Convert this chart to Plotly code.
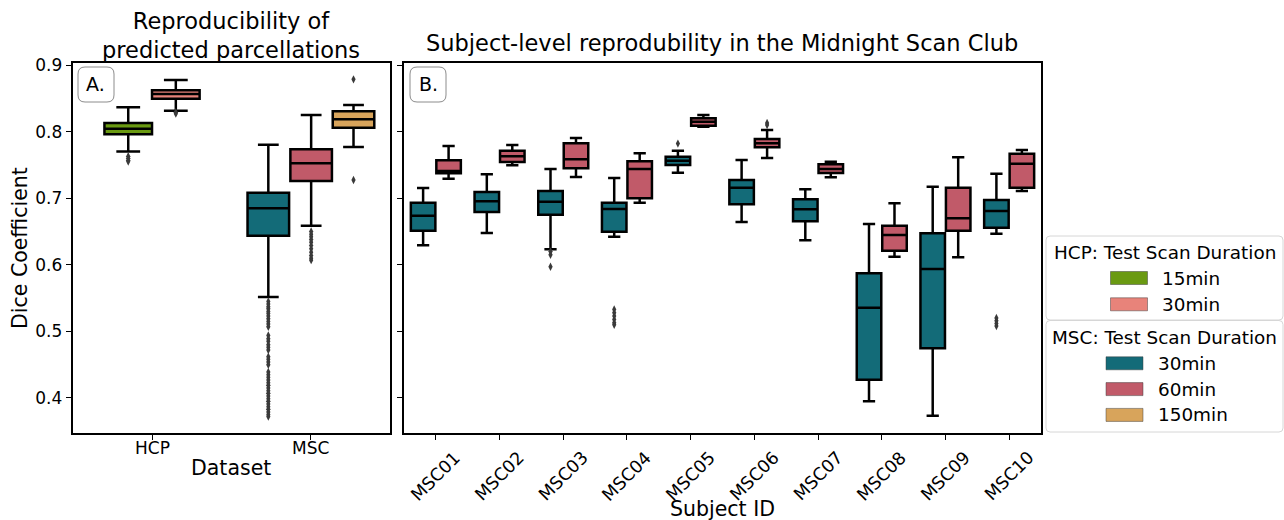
import plotly.graph_objects as go

W, H = 1284, 520

# ---------------- Panel A: dataset-level reproducibility ----------------
datasets = ["HCP", "MSC"]

hcp_durations = ["15min", "30min"]
hcp_colors = ["#6a9a12", "#e8837a"]
hcp_lower = [0.770, 0.8314]
hcp_q1 = [0.796, 0.8494]
hcp_median = [0.8044, 0.8565]
hcp_q3 = [0.8129, 0.862]
hcp_upper = [0.8365, 0.8775]
hcp_outliers = [
    [0.763, 0.760, 0.757, 0.755],
    [0.829, 0.827],
]

msc_durations = ["30min", "60min", "150min"]
msc_colors = ["#136b78", "#c15a69", "#d8a45b"]
msc_lower = [0.5517, 0.6587, 0.7769]
msc_q1 = [0.6437, 0.7258, 0.8059]
msc_median = [0.6848, 0.7524, 0.8185]
msc_q3 = [0.7083, 0.7734, 0.8305]
msc_upper = [0.7803, 0.825, 0.840]
msc_outliers = [
    [0.545, 0.541, 0.537, 0.534, 0.530, 0.527, 0.523, 0.519, 0.515, 0.511,
     0.507, 0.494, 0.489, 0.485, 0.480, 0.476, 0.472, 0.462, 0.458, 0.454,
     0.450, 0.439, 0.435, 0.431, 0.427, 0.423, 0.419, 0.415, 0.411, 0.407,
     0.403, 0.399, 0.395, 0.391, 0.387, 0.383, 0.379, 0.375, 0.372],
    [0.650, 0.646, 0.642, 0.638, 0.634, 0.629, 0.624, 0.619, 0.614, 0.610, 0.607],
    [0.8785, 0.7273],
]

# ---------------- Panel B: subject-level reproducibility ----------------
subjects = ["MSC01", "MSC02", "MSC03", "MSC04", "MSC05",
            "MSC06", "MSC07", "MSC08", "MSC09", "MSC10"]

sub30_lower = [0.6293, 0.6477, 0.6232, 0.6422, 0.7383, 0.6643, 0.6368, 0.395, 0.3734, 0.6467]
sub30_q1 = [0.6512, 0.6793, 0.6753, 0.6497, 0.7499, 0.6908, 0.6653, 0.4275, 0.4746, 0.6557]
sub30_median = [0.6737, 0.6953, 0.6948, 0.6838, 0.7564, 0.7158, 0.6833, 0.5356, 0.5937, 0.6808]
sub30_q3 = [0.6933, 0.7093, 0.7108, 0.6933, 0.7624, 0.7273, 0.6983, 0.5872, 0.6473, 0.6973]
sub30_upper = [0.7153, 0.7359, 0.7438, 0.7303, 0.7713, 0.7574, 0.7134, 0.6613, 0.7173, 0.7368]
sub30_outliers = [
    [], [], [0.620, 0.615, 0.597], [0.533, 0.528, 0.523, 0.518, 0.513, 0.510],
    [0.782], [], [], [], [], [0.520, 0.516, 0.512, 0.508],
]

sub60_lower = [0.7293, 0.7494, 0.7318, 0.6933, 0.8074, 0.7604, 0.7313, 0.6122, 0.6112, 0.7108]
sub60_q1 = [0.7374, 0.7544, 0.7449, 0.6998, 0.809, 0.7764, 0.7378, 0.6212, 0.6512, 0.7158]
sub60_median = [0.741, 0.7629, 0.7584, 0.7438, 0.815, 0.7824, 0.7438, 0.6448, 0.6698, 0.7518]
sub60_q3 = [0.7569, 0.7713, 0.7824, 0.7554, 0.820, 0.7889, 0.7509, 0.6588, 0.7158, 0.7668]
sub60_upper = [0.7784, 0.7799, 0.7904, 0.7674, 0.825, 0.8024, 0.7549, 0.6923, 0.7614, 0.7724]
sub60_outliers = [
    [], [], [], [], [], [0.813, 0.810], [], [], [], [],
]

y_ticks = [0.4, 0.5, 0.6, 0.7, 0.8, 0.9]

# ---------------- styling ----------------
FONT = "DejaVu Sans"
LINE_W = 2.5
OUT_COLOR = "#3a3a3a"


def px_x(p):
    return p / W


def px_y(p):
    return 1 - p / H


def box_trace(xpos, lower, q1, med, q3, upper, color, name, xa, ya, width):
    return go.Box(
        x=xpos, lowerfence=lower, q1=q1, median=med, q3=q3, upperfence=upper,
        width=width, fillcolor=color, name=name,
        line=dict(color="black", width=LINE_W), whiskerwidth=0.5,
        boxpoints=False, xaxis=xa, yaxis=ya, showlegend=False,
        hoverinfo="skip",
    )


def outlier_trace(xs, ys, xa, ya):
    return go.Scatter(
        x=xs, y=ys, mode="markers", xaxis=xa, yaxis=ya, showlegend=False,
        marker=dict(symbol="diamond-tall", size=6, color=OUT_COLOR,
                    line=dict(width=0)),
        hoverinfo="skip",
    )


fig = go.Figure()

# Panel A boxes
hcp_offsets = [-0.15, 0.15]
for i, dur in enumerate(hcp_durations):
    xpos = [0 + hcp_offsets[i]]
    fig.add_trace(box_trace(xpos, [hcp_lower[i]], [hcp_q1[i]], [hcp_median[i]],
                            [hcp_q3[i]], [hcp_upper[i]], hcp_colors[i], dur,
                            "x", "y", 0.3))
    if hcp_outliers[i]:
        fig.add_trace(outlier_trace(xpos * len(hcp_outliers[i]), hcp_outliers[i], "x", "y"))

msc_offsets = [-0.267, 0.003, 0.27]
for i, dur in enumerate(msc_durations):
    xpos = [1 + msc_offsets[i]]
    fig.add_trace(box_trace(xpos, [msc_lower[i]], [msc_q1[i]], [msc_median[i]],
                            [msc_q3[i]], [msc_upper[i]], msc_colors[i], dur,
                            "x", "y", 0.262))
    if msc_outliers[i]:
        fig.add_trace(outlier_trace(xpos * len(msc_outliers[i]), msc_outliers[i], "x", "y"))

# Panel B boxes
sub_groups = [
    (-0.2, sub30_lower, sub30_q1, sub30_median, sub30_q3, sub30_upper, sub30_outliers, msc_colors[0], "30min"),
    (0.2, sub60_lower, sub60_q1, sub60_median, sub60_q3, sub60_upper, sub60_outliers, msc_colors[1], "60min"),
]
for off, lo, q1, med, q3, hi, outs, color, dur in sub_groups:
    xpos = [k + off for k in range(len(subjects))]
    fig.add_trace(box_trace(xpos, lo, q1, med, q3, hi, color, dur, "x2", "y2", 0.385))
    ox, oy = [], []
    for k, vals in enumerate(outs):
        ox += [xpos[k]] * len(vals)
        oy += vals
    if oy:
        fig.add_trace(outlier_trace(ox, oy, "x2", "y2"))

# ---------------- axes ----------------
y_dom = [px_y(433), px_y(62.5)]
y_rng = [0.3474, 0.9038]
axis_common = dict(showline=True, mirror=True, linecolor="black", linewidth=2,
                   ticks="outside", ticklen=5, tickwidth=1.2, tickcolor="black",
                   showgrid=False, zeroline=False, automargin=False,
                   tickfont=dict(family=FONT, size=17, color="black"))

fig.update_layout(
    width=W, height=H,
    margin=dict(l=0, r=0, t=0, b=0, pad=0, autoexpand=False),
    paper_bgcolor="white", plot_bgcolor="white",
    font=dict(family=FONT, color="black"),
    boxmode="overlay",
    showlegend=False,
    xaxis=dict(domain=[px_x(72.7), px_x(390)], range=[-0.5, 1.5],
               tickvals=[0, 1], showticklabels=False, anchor="y", **axis_common),
    yaxis=dict(domain=y_dom, range=y_rng, tickvals=y_ticks,
               ticktext=[f"{v:.1f}" for v in y_ticks], anchor="x", **axis_common),
    xaxis2=dict(domain=[px_x(404), px_x(1041)], range=[-0.5, 9.5],
                tickvals=list(range(len(subjects))), showticklabels=False,
                anchor="y2", **axis_common),
    yaxis2=dict(domain=y_dom, range=y_rng, tickvals=y_ticks,
                showticklabels=False, anchor="x2", **axis_common),
)


# ---------------- text ----------------
def text(x, y, s, size, angle=0, anchor="center"):
    fig.add_annotation(x=px_x(x), y=px_y(y), xref="paper", yref="paper",
                       text=s, showarrow=False, textangle=angle,
                       xanchor=anchor, yanchor="middle",
                       font=dict(family=FONT, size=size, color="black"))


# category labels centred under their ticks
for k, name in enumerate(datasets):
    fig.add_annotation(x=k, y=px_y(447.5), xref="x", yref="paper", text=name,
                       showarrow=False, xanchor="center", yanchor="middle",
                       font=dict(family=FONT, size=17, color="black"))
for k, name in enumerate(subjects):
    fig.add_annotation(x=k, y=px_y(476), xref="x2", yref="paper", text=name,
                       showarrow=False, textangle=-45,
                       xanchor="center", yanchor="middle",
                       font=dict(family=FONT, size=17.5, color="black"))

text(231, 36, "Reproducibility of<br>predicted parcellations", 22.5)
text(722, 43, "Subject-level reprodubility in the Midnight Scan Club", 22.5)
text(20, 248, "Dice Coefficient", 20.5, angle=-90)
text(231, 468, "Dataset", 20.5)
text(722, 509, "Subject ID", 20.5)


def rounded_box(x0, y0, x1, y1, r, color, width, fill="white"):
    rx, ry = r / W, r / H
    a0, a1 = px_x(x0), px_x(x1)
    b0, b1 = px_y(y1), px_y(y0)
    path = (f"M{a0 + rx},{b0} L{a1 - rx},{b0} Q{a1},{b0} {a1},{b0 + ry} "
            f"L{a1},{b1 - ry} Q{a1},{b1} {a1 - rx},{b1} "
            f"L{a0 + rx},{b1} Q{a0},{b1} {a0},{b1 - ry} "
            f"L{a0},{b0 + ry} Q{a0},{b0} {a0 + rx},{b0} Z")
    fig.add_shape(type="path", path=path, xref="paper", yref="paper",
                  line=dict(color=color, width=width), fillcolor=fill)


# panel tags
rounded_box(78, 67, 114, 102, 7, "#8c8c8c", 1)
rounded_box(410, 67, 446, 102, 7, "#8c8c8c", 1)
text(96, 84.5, "A.", 19)
text(428, 84.5, "B.", 19)


# ---------------- legends (two stacked boxes) ----------------
def legend_block(top, bottom, title, labels, colors, patch_x, text_x, title_y, first_y, step):
    rounded_box(1046, top, 1283, bottom, 4, "#d6d6d6", 1)
    text((1046 + 1283) / 2, title_y, title, 18.4)
    for j, (lab, col) in enumerate(zip(labels, colors)):
        yc = first_y + j * step
        fig.add_shape(type="rect", xref="paper", yref="paper",
                      x0=px_x(patch_x), x1=px_x(patch_x + 37),
                      y0=px_y(yc + 6.5), y1=px_y(yc - 6.5),
                      fillcolor=col, line=dict(color="rgba(60,60,60,0.6)", width=0.8))
        text(text_x, yc, lab, 18.4, anchor="left")


legend_block(236, 320, "HCP: Test Scan Duration", hcp_durations, hcp_colors,
             1110.5, 1160, 252, 278, 26.3)
legend_block(320.5, 432, "MSC: Test Scan Duration", msc_durations, msc_colors,
             1106, 1156, 337, 363.3, 25.8)

fig.write_html("out.html")
